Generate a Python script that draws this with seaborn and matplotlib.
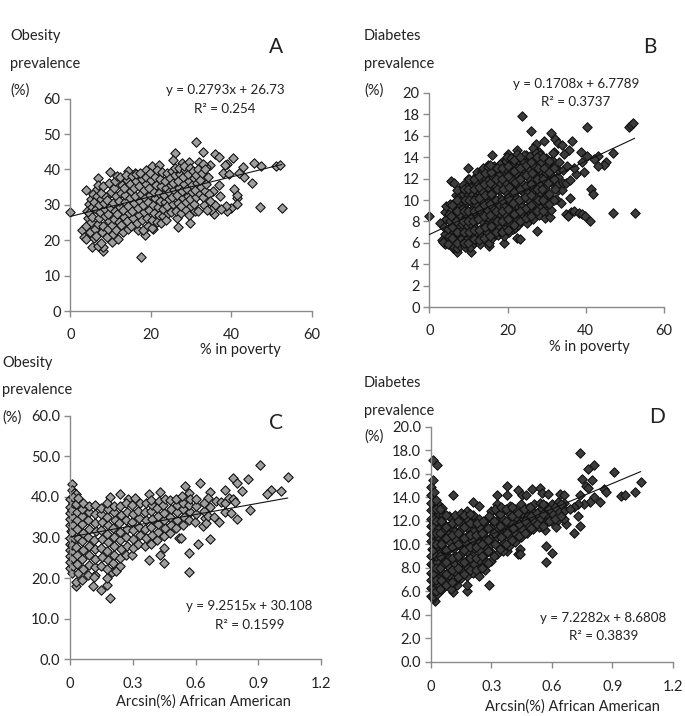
import matplotlib
matplotlib.use("Agg")
import matplotlib.pyplot as plt
import pandas as pd
import seaborn as sns

W, H = 685, 716

# values; outliers first, then estimates across the overlapping clouds
a_x = [0, 17.5, 31.2, 33, 25.9, 25.5, 36, 36.8, 40.4, 39, 38.5, 42.8, 45.5, 47.3, 51, 52,
       52.5, 47, 45.2, 43, 42, 41.5, 41.3, 40.6, 41.4, 40, 39, 38.7, 37.5, 36, 35.7, 35,
       37.2, 36.8, 35.5, 38, 39.3, 34.8, 33.8, 29.6, 26.7, 18.5, 20.5, 8, 8.1, 5.5,
       6.8, 7.5, 3, 3.5, 4, 4, 7, 9.8, 14.3, 16, 18.8, 20.3, 22, 27.8, 29.5, 32, 33,
       3.9, 4.3, 4.1, 4.6, 4.9, 5.2, 4.7, 5.4,
       5.1, 5.6, 5.8, 6.1, 5.5, 6.3, 6.0, 6.6,
       6.4, 6.9, 7.1, 6.7, 7.4, 7.2, 7.6, 6.8,
       7.9, 8.2, 8.5, 7.7, 8.7, 8.3, 8.9, 8.1,
       9.1, 9.4, 9.7, 9.3, 9.9, 9.2, 10.1, 9.6,
       10.3, 10.7, 10.4, 10.9, 11.2, 10.6, 11.4, 10.8,
       11.1, 11.6, 11.9, 11.3, 12.1, 11.7, 12.3, 12.0,
       12.5, 12.8, 12.4, 13.1, 12.7, 13.3, 13.0, 13.5,
       13.7, 13.4, 14.0, 13.8, 14.3, 14.1, 14.6, 14.4,
       14.8, 15.1, 14.7, 15.4, 15, 15.6, 15.3, 15.8,
       16.1, 15.9, 16.4, 16.2, 16.7, 16.5, 17, 16.8,
       17.2, 17.5, 17.1, 17.8, 17.4, 18, 17.7, 18.3,
       18.1, 18.6, 18.4, 18.9, 18.7, 19.2, 19, 19.5,
       19.3, 19.8, 19.6, 20.1, 19.9, 20.4, 20.2, 20.7,
       20.5, 21, 20.8, 21.3, 21.1, 21.6, 21.4, 21.9,
       21.7, 22.2, 22, 22.5, 22.3, 22.8, 22.6, 23.1,
       22.9, 23.4, 23.2, 23.7, 23.5, 24, 23.8, 24.3,
       24.1, 24.6, 24.4, 24.9, 24.7, 25.2, 25, 25.5,
       25.3, 25.8, 25.6, 26.1, 25.9, 26.4, 26.2, 26.7,
       26.5, 27, 26.8, 27.3, 27.1, 27.6, 27.4, 27.9,
       27.7, 28.2, 28, 28.5, 28.3, 28.8, 28.6, 29.1,
       28.9, 29.4, 29.2, 29.7, 29.5, 30, 29.8, 30.3,
       30.1, 30.6, 30.4, 30.9, 30.7, 31.2, 31, 31.5,
       31.3, 31.8, 31.6, 32.1, 32.4, 32.2, 32.7, 33.2,
       33, 33.5, 33.8, 34.1, 34.4, 34, 33.4, 34.7]
a_y = [28, 15.2, 47.8, 44.8, 44.6, 42.8, 44.3, 43.6, 43.2, 41.6, 41.4, 40.8, 41.8, 41, 41, 41.2,
       29.2, 29.5, 36.2, 37.8, 39, 31.8, 32.8, 34.6, 30.2, 29.2, 28.2, 29.6, 28.8, 30, 27.4, 28.6,
       32.4, 35.5, 34, 39, 38.6, 41.4, 40.6, 24.8, 23.8, 21.6, 23.2, 17, 18.2, 18.2,
       18.5, 19.2, 22.8, 21, 20.4, 34.2, 37.5, 39.2, 39.5, 39, 39.8, 41, 41.2, 41.8, 42.2, 42, 41.5,
       24.1, 26.3, 28.4, 30.2, 22.4, 25.2, 27.6, 29.3,
       31.6, 33.1, 20.6, 23.3, 26.7, 28.7, 30.8, 32.4,
       21.2, 24.6, 26.2, 34.6, 28.1, 29.9, 31.7, 35.6,
       22.3, 24.1, 26.8, 33.3, 28.7, 30.6, 32.2, 35.4,
       20.9, 23.2, 25.4, 27.3, 29.4, 31.3, 33.6, 36.2,
       19.6, 21.9, 24.2, 26.1, 28.2, 30.4, 32.6, 34.7,
       36.8, 38.2, 20.4, 22.8, 25.1, 27.4, 29.5, 31.2,
       33.4, 35.6, 37.9, 22.3, 24.4, 26.6, 28.6, 30.7,
       32.8, 34.9, 37, 38.4, 23.3, 25.5, 27.7, 29.8,
       31.9, 33.9, 36, 38.1, 24.1, 26.3, 28.4, 30.4,
       32.5, 34.7, 36.7, 38.6, 23, 25, 27.1, 29.2,
       31.1, 33.2, 35.3, 37.3, 39, 22.8, 25.6, 27.9,
       30, 32, 34.1, 36, 38, 24, 26.2, 28.5,
       30.7, 32.8, 34.8, 36.9, 39.1, 23.4, 25.8, 27.8,
       29.9, 31.8, 33.7, 35.7, 37.8, 39.8, 25.2, 27.1,
       29.3, 31.2, 33.3, 35.3, 37.2, 39.3, 24.8, 26.9,
       28.9, 30.9, 32.9, 34.9, 36.8, 38.9, 25.6, 27.6,
       29.7, 31.7, 33.6, 35.6, 37.6, 39.6, 28.1, 30.2,
       32.3, 34.2, 36.3, 38.3, 40.3, 26.4, 28.4, 30.6,
       32.7, 34.8, 36.7, 38.8, 40.4, 27.8, 29.8, 31.8,
       33.8, 35.8, 37.8, 39.8, 41.1, 28.6, 30.7, 32.6,
       34.6, 36.6, 38.6, 40.4, 27.2, 29.6, 31.6, 33.5,
       35.5, 37.5, 39.5, 28.4, 30.3, 32.3, 34.2, 36.3,
       38.3, 40.2, 28.2, 33, 35, 37, 39, 30,
       32.2, 34, 36, 38, 33, 28.5, 40, 31]

b_x = [0, 23.8, 25.9, 31.2, 40.2, 51, 51.5, 52.2, 32.2, 33, 34, 36.5, 35.8, 34.5, 38.7, 47,
       45.2, 44.7, 43, 42, 43, 40.3, 39, 39.5, 37.5, 37, 41.3, 41.8, 36, 33.6, 36.2, 35,
       35.5, 37, 38.3, 39, 39.8, 41.2, 47, 52.5, 27.5, 22.5, 23.2, 19, 15.3, 10.7, 7, 6,
       4, 3.2, 2.8, 5.5, 6.3, 9.9, 16, 13.9, 20.2, 22.5, 27.2, 29.3, 28, 15, 18.5, 24.8, 26.5, 32,
       3.6, 4, 3.7, 4.2, 3.9, 4.3, 4.9, 5.1, 4.7, 5.3, 5, 5.2,
       6.2, 6.5, 6.3, 6.7, 6.4, 6.8, 6.6, 6.9, 7.1, 7.3,
       7.2, 7.5, 7.3, 7.6, 7.4, 7.7, 7.9, 8.2, 8, 8.3, 8.1, 8.4,
       8.2, 8.5, 8.3, 8.6, 9.2, 9.5, 9.3, 9.6, 9.4, 9.7, 9.5, 9.8,
       9.6, 9.9, 10.4, 10.7, 10.5, 10.8, 10.6, 10.9, 10.7, 11, 10.8, 11.1,
       11.5, 11.8, 11.6, 11.9, 11.7, 12, 11.8, 12.1, 11.9, 12.2, 12, 12.3,
       13, 13.3, 13.1, 13.4, 13.2, 13.5, 13.3, 13.6, 13.4, 13.7, 13.5, 13.8,
       14.5, 14.8, 14.6, 14.9, 14.7, 15, 14.8, 15.1, 14.9, 15.2, 15, 15.3,
       16, 16.3, 16.1, 16.4, 16.2, 16.5, 16.3, 16.6, 16.4, 16.7, 16.5, 16.8,
       17.5, 17.8, 17.6, 17.9, 17.7, 18, 17.8, 18.1, 17.9, 18.2, 18, 18.3,
       19, 19.3, 19.1, 19.4, 19.2, 19.5, 19.3, 19.6, 19.4, 19.7, 19.5, 19.8,
       20.5, 20.8, 20.6, 20.9, 20.7, 21, 20.8, 21.1, 20.9, 21.2, 21, 21.3,
       22, 22.3, 22.1, 22.4, 22.2, 22.5, 22.3, 22.6, 22.4, 22.7, 22.5, 22.8,
       23.5, 23.8, 23.6, 23.9, 23.7, 24, 23.8, 24.1, 23.9, 24.2,
       25, 25.3, 25.1, 25.4, 25.2, 25.5, 25.3, 25.6, 25.4, 25.7,
       26.5, 26.8, 26.6, 26.9, 26.7, 27, 26.8, 27.1, 26.9, 27.2,
       28, 28.3, 28.1, 28.4, 28.2, 28.5, 28.3, 28.6, 28.4,
       29.5, 29.8, 29.6, 29.9, 29.7, 30, 29.8, 30.1, 29.9,
       30.8, 31.1, 31, 31.3, 31.2, 31.5, 31.4, 31.7,
       32.5, 32.8, 32.7, 33, 32.9, 33.2, 34, 34.3, 34.2, 35, 35.3, 36,
       5.7, 5.8, 5.6, 5.9,
       7, 7.1, 6.9, 7, 7.2, 7,
       8.8, 8.9, 8.7, 8.8, 9, 8.8,
       10, 10.1, 9.9, 10, 10.2, 10, 10.1,
       11.3, 11.4, 11.2, 11.3, 11.5, 11.3, 11.4,
       12.6, 12.7, 12.5, 12.6, 12.8, 12.6, 12.7,
       14.1, 14.2, 14, 14.1, 14.3, 14.1, 14.2,
       15.6, 15.7, 15.5, 15.6, 15.8, 15.6, 15.7, 15.6,
       17.1, 17.2, 17, 17.1, 17.3, 17.1, 17.2,
       18.6, 18.7, 18.5, 18.6, 18.8, 18.6, 18.7,
       20.1, 20.2, 20, 20.1, 20.3, 20.1, 20.2,
       21.6, 21.7, 21.5, 21.6, 21.8, 21.6, 21.7,
       23.1, 23.2, 23, 23.1, 23.3, 23.1, 23.2,
       24.6, 24.7, 24.5, 24.6, 24.8, 24.6,
       26, 26.1, 25.9, 26, 26.2, 26,
       27.6, 27.7, 27.5, 27.6, 27.8, 27.6,
       29, 29.1, 28.9, 29, 29.2, 29,
       30.5, 30.6, 30.4, 30.5, 30.7,
       32, 32.1, 31.9, 32]
b_y = [8.5, 17.8, 16.4, 16.2, 16.8, 16.8, 17, 17.2, 15.7, 15.3, 15.1, 15.5, 14.7, 14.3, 14.5, 14.4,
       13.5, 13.3, 14.1, 13.8, 13.2, 14.1, 13.5, 12.6, 12.4, 13, 11, 10.6, 10.2, 9.7, 8.9, 8.7,
       8.5, 9, 8.8, 8.7, 8.5, 8, 8.8, 8.8, 7.1, 6.5, 6.4, 6, 5.7, 5.2, 5.2, 5.5,
       5.9, 6.3, 7.9, 11.8, 11.6, 13, 14.2, 12.8, 14.3, 14.7, 15.2, 15.5, 14.5, 13.3, 13.5, 14.2, 14.8, 14.5,
       6.1, 6.8, 7.5, 8.2, 8.9, 9.4, 5.9, 6.6, 7.3, 8, 8.7, 9.6,
       5.6, 6.3, 7, 7.7, 8.4, 9.1, 9.8, 10.5, 5.5, 6.2,
       6.9, 7.6, 8.3, 9, 9.7, 10.4, 5.7, 6.4, 7.1, 7.8, 8.5, 9.2,
       9.9, 10.6, 11.1, 11.4, 5.6, 6.3, 7, 7.7, 8.4, 9.1, 9.8, 10.5,
       11.2, 12, 5.6, 6.3, 7, 7.7, 8.4, 9.1, 9.8, 10.5, 11.2, 11.9,
       6, 6.7, 7.4, 8.1, 8.8, 9.5, 10.2, 10.9, 11.6, 12.3, 6.2, 12.6,
       5.9, 6.6, 7.3, 8, 8.7, 9.4, 10.1, 10.8, 11.5, 12.2, 12.7, 13,
       6.3, 7, 7.7, 8.4, 9.1, 9.8, 10.5, 11.2, 11.9, 12.6, 13.1, 6,
       6.5, 7.2, 7.9, 8.6, 9.3, 10, 10.7, 11.4, 12.1, 12.8, 13.2, 6.8,
       6.7, 7.4, 8.1, 8.8, 9.5, 10.2, 10.9, 11.6, 12.3, 13, 13.4, 7,
       6.6, 7.3, 8, 8.7, 9.4, 10.1, 10.8, 11.5, 12.2, 12.9, 13.6, 14,
       7, 7.7, 8.4, 9.1, 9.8, 10.5, 11.2, 11.9, 12.6, 13.3, 13.9, 7.3,
       7.4, 8.1, 8.8, 9.5, 10.2, 10.9, 11.6, 12.3, 13, 13.7, 14.3, 7.7,
       8, 8.7, 9.4, 10.1, 10.8, 11.5, 12.2, 12.9, 13.6, 14.2,
       7.9, 8.6, 9.3, 10, 10.7, 11.4, 12.1, 12.8, 13.5, 14.1,
       8.2, 8.9, 9.6, 10.3, 11, 11.7, 12.4, 13.1, 13.8, 14.4,
       8.6, 9.3, 10, 10.7, 11.4, 12.1, 12.8, 13.5, 14.2,
       8.3, 9, 9.7, 10.4, 11.1, 11.8, 12.5, 13.2, 13.9,
       8.4, 9.1, 10.2, 11.6, 12.3, 13, 13.7, 14.4,
       10.1, 10.9, 11.4, 12.1, 12.8, 13.5, 10.9, 11.6, 12.8, 11.6, 13.2, 11.9,
       6.5, 7.5, 8.5, 9.5,
       6, 7, 8, 9, 10, 10.9,
       6, 7, 8, 9, 10, 11,
       6, 7, 8, 9, 10, 11, 12,
       6.4, 7.2, 8, 9, 10, 11, 12,
       6.3, 7.2, 8.2, 9.2, 10.2, 11.2, 12.2,
       6.5, 7.5, 8.5, 9.5, 10.5, 11.5, 12.5,
       6.6, 7.6, 8.6, 9.6, 10.6, 11.6, 12.6, 13.3,
       7, 8, 9, 10, 11, 12, 13,
       7, 8, 9, 10, 11, 12, 13,
       7.2, 8.2, 9.2, 10.2, 11.2, 12.2, 13.2,
       7.7, 8.7, 9.7, 10.7, 11.7, 12.7, 13.7,
       8, 9, 10, 11, 12, 13, 14,
       8.3, 9.3, 10.3, 11.3, 12.3, 13.3,
       8.5, 9.5, 10.5, 11.5, 12.5, 13.5,
       9, 10, 11, 12, 13, 14,
       9, 10, 11, 12, 13, 14,
       9.6, 10.6, 11.6, 12.6, 13.6,
       10, 11, 12, 13]

c_x = [.01, .01, .02, .03, .19, .24, .28, .31, .38, .43, .55, .62, .57, .67, .66, .74,
       .78, .8, .82, .85, .91, 1.04, .96, .94, 1.01, .86, .8, .74, .71, .7, .67, .61,
       .57, .57, .52, .53, .45, .45, .43, .38, .19, .18, .18, .15, .11, .03, .12, .2, .22, .24,
       0, .002, 0, .003, 0, .002, .004, 0, .003, 0, .002, 0,
       .012, .018, .014, .016, .011, .019, .013, .017, .015, .012, .018, .014,
       .032, .038, .034, .036, .031, .039, .033, .037, .035, .032, .038,
       .058, .063, .06, .062, .057, .064, .059, .061, .06, .063,
       .088, .093, .09, .092, .087, .094, .089, .091, .09,
       .118, .123, .12, .122, .117, .124, .119, .121, .12,
       .148, .153, .15, .152, .147, .154, .149, .151,
       .178, .183, .18, .182, .177, .184, .179, .181, .18,
       .208, .213, .21, .212, .207, .214, .209, .211,
       .238, .243, .24, .242, .237, .244, .239,
       .268, .273, .27, .272, .267, .274, .269,
       .298, .303, .3, .302, .297, .304, .299,
       .328, .333, .33, .332, .327, .334,
       .358, .363, .36, .362, .357, .364,
       .388, .393, .39, .392, .387, .394, .389,
       .418, .423, .42, .422, .417, .424,
       .448, .453, .45, .452, .447, .454,
       .478, .483, .48, .482, .477,
       .508, .513, .51, .512, .507,
       .538, .543, .54, .542, .537,
       .568, .573, .57, .572,
       .598, .603, .6, .602,
       .638, .643, .64, .642, .65, .66,
       .67, .69, .72, .74, .76, .78, .79, .77]
c_y = [43.3, 41.8, 41, 40.6, 40, 40.8, 39.5, 39.7, 40.6, 41.2, 42.7, 43.5, 41, 41.3, 39.7, 41.8,
       44.6, 43.5, 41.5, 44.3, 47.9, 44.9, 41.6, 40.7, 41.5, 36.7, 34.6, 36.2, 33.7, 39, 29.7, 28.4,
       26.2, 21.6, 30, 30, 23.8, 27.3, 25.8, 24.5, 15.2, 18.2, 20, 17, 18, 18, 20.8, 21.5, 21.8, 23,
       22.5, 24, 25.5, 27, 28.5, 30, 31.5, 33, 34.5, 36, 37.5, 39.5,
       21.3, 23.1, 24.9, 26.6, 28.2, 29.8, 31.4, 33.2, 35, 36.7, 38.4, 40,
       19, 21.2, 23.4, 25.6, 27.7, 29.9, 32.1, 34.2, 36.3, 38.2, 39.8,
       19.6, 22.2, 24.6, 26.9, 29.1, 31.2, 33.4, 35.3, 37.1, 38.6,
       20.7, 23.2, 25.7, 27.9, 30.1, 32.2, 34.3, 36.2, 37.8,
       20.3, 22.7, 24.8, 27.1, 29.3, 31.5, 33.6, 35.7, 38,
       23, 25.3, 27.5, 29.7, 31.8, 33.9, 35.8, 37.3,
       22.2, 24.4, 26.6, 28.8, 30.9, 33, 35, 37, 38.6,
       23.6, 25.8, 28, 30.2, 32.3, 34.3, 36.2, 37.8,
       25, 27.1, 29.3, 31.4, 33.5, 35.6, 37.8,
       25.6, 28, 30.1, 32.2, 34.3, 36.4, 38.4,
       25.6, 27.4, 29.7, 31.8, 33.9, 35.9, 38,
       28.4, 30.5, 32.6, 34.7, 36.6, 38.4,
       27.8, 30, 32.1, 34.2, 36.2, 38.5,
       28.5, 30.6, 32.7, 34.6, 36.5, 38, 39.2,
       29.5, 31.4, 33.4, 35.4, 37.2, 39,
       30.4, 32.3, 34.2, 36.1, 38, 39.6,
       31, 33, 35, 37, 39.2,
       32.4, 34.3, 36.2, 38, 39.6,
       33.2, 35, 36.9, 38.6, 40.3,
       34.2, 36.2, 38, 39.4,
       33.8, 35.8, 37.8, 39.4,
       32.8, 34.8, 36.6, 38.4, 33.6, 35.2,
       37.6, 35, 38.8, 38.4, 39.8, 39.4, 38.8, 36]

d_x = [.01, .03, .01, .11, .21, .24, .33, .38, .38, .43, .45, .47, .5, .54, .55, .58, .64, .66,
       .74, .78, .81, .8, .75, .77, .78, .74, .86, .87, .84, .81, .79, .91, .94, .96, 1.01, 1.04,
       .76, .73, .71, .73, .74, .71, .67, .62, .57, .6, .57, .44, .43, .44, .38, .29, .18, .18,
       .13, .11, .1, .02, .01,
       0, .002, 0, .003, 0, .002, .004, 0, .003, 0, .002, 0, .003, 0, .002,
       .012, .018, .014, .016, .011, .019, .013, .017, .015, .012, .018, .014, .016,
       .032, .038, .034, .036, .031, .039, .033, .037, .035, .032, .038, .034,
       .058, .063, .06, .062, .057, .064, .059, .061, .06, .063, .058,
       .088, .093, .09, .092, .087, .094, .089, .091, .09,
       .118, .123, .12, .122, .117, .124, .119, .121, .12,
       .148, .153, .15, .152, .147, .154, .149, .151, .15,
       .178, .183, .18, .182, .177, .184, .179, .181, .18,
       .208, .213, .21, .212, .207, .214, .209, .211,
       .238, .243, .24, .242, .237, .244, .239, .241,
       .268, .273, .27, .272, .267, .274, .269,
       .298, .303, .3, .302, .297, .304, .299,
       .328, .333, .33, .332, .327, .334, .329,
       .358, .363, .36, .362, .357, .364,
       .388, .393, .39, .392, .387, .394,
       .418, .423, .42, .422, .417,
       .448, .453, .45, .452, .447,
       .478, .483, .48, .482,
       .508, .513, .51, .512,
       .538, .543, .54, .542,
       .568, .573, .57, .572,
       .598, .603, .6,
       .628, .633, .63,
       .658, .663, .66,
       .69,
       .025, .026, .024, .025, .027, .025, .026, .024, .025,
       .048, .049, .047, .048, .05, .048, .049, .047,
       .075, .076, .074, .075, .077, .075, .076,
       .105, .106, .104, .105, .107, .105,
       .135, .136, .134, .135, .137, .135,
       .165, .166, .164, .165, .167, .165,
       .195, .196, .194, .195, .197, .195,
       .225, .226, .224, .225, .227,
       .255, .256, .254, .255, .257,
       .285, .286, .284, .285, .287,
       .315, .316, .314, .315, .317,
       .345, .346, .344, .345, .347,
       .375, .376, .374, .375,
       .405, .406, .404, .405,
       .435, .436, .434,
       .465, .466, .464,
       .495, .496, .494,
       .525, .526,
       .555, .556, .554,
       .585, .586,
       .615, .616,
       .645, .646]
d_y = [17.2, 16.8, 15.5, 14.2, 13.6, 13.3, 14.2, 15, 14.2, 14.6, 14.2, 14.2, 14.7, 14.8, 14.4, 14.3, 14.3, 14.2,
       17.8, 16.4, 16.8, 15.5, 15.6, 15, 14.8, 14.2, 14.7, 14.5, 13.6, 14, 13.6, 16.2, 14.1, 14.2, 14.5, 15.3,
       13.4, 13.4, 13.2, 12.4, 11.6, 11, 11.7, 11.5, 9.9, 9.3, 8.5, 9.6, 9.2, 9.2, 9.4, 6.5, 6, 6.5,
       6.5, 5.9, 6.2, 5.2, 5.4,
       5.6, 6.3, 7, 7.6, 8.3, 9, 9.6, 10.3, 10.9, 11.6, 12.2, 12.9, 13.5, 14.2, 14.9,
       5.6, 6.2, 6.9, 7.5, 8.2, 8.9, 9.5, 10.2, 10.8, 11.5, 12.2, 12.9, 14.5,
       5.8, 6.5, 7.1, 7.8, 8.5, 9.2, 9.9, 10.6, 11.3, 12, 12.7, 13.4,
       6.2, 6.9, 7.6, 8.3, 9, 9.7, 10.4, 11.1, 11.8, 12.5, 13.1,
       6.7, 7.4, 8.1, 8.8, 9.5, 10.2, 10.9, 11.6, 12.4,
       6.9, 7.6, 8.3, 9, 9.7, 10.4, 11.1, 11.8, 12.5,
       7.1, 7.8, 8.5, 9.2, 9.9, 10.6, 11.3, 12, 12.7,
       7.3, 8, 8.7, 9.4, 10.1, 10.8, 11.5, 12.2, 12.8,
       7.6, 8.3, 9, 9.7, 10.4, 11.1, 11.8, 12.5,
       7.3, 8, 8.7, 9.4, 10.1, 10.8, 11.5, 12.2,
       7.8, 8.5, 9.2, 9.9, 10.6, 11.3, 12,
       8.6, 9.3, 10, 10.7, 11.4, 12.1, 12.8,
       9.2, 9.9, 10.6, 11.3, 12, 12.7, 13.4,
       9.4, 10.1, 10.8, 11.5, 12.2, 12.9,
       9.9, 10.6, 11.3, 12, 12.7, 13.3,
       10.2, 10.9, 11.6, 12.3, 13,
       10.6, 11.3, 12, 12.7, 13.4,
       11, 11.7, 12.4, 13.1,
       11.3, 12, 12.7, 13.4,
       11.5, 12.2, 12.9, 13.5,
       11.2, 11.9, 12.6, 13.3,
       12, 12.7, 13.4,
       12.1, 12.8, 13.6,
       12.2, 12.9, 13.5,
       13,
       6, 7, 8, 9, 10, 11, 12, 13, 13.8,
       6.2, 7, 8, 9, 10, 11, 12, 13,
       6.5, 7.5, 8.5, 9.5, 10.5, 11.5, 12.5,
       6.8, 7.8, 8.8, 9.8, 10.8, 11.8,
       7.2, 8, 9, 10, 11, 12,
       7.5, 8.5, 9.5, 10.5, 11.5, 12.5,
       7.8, 8.8, 9.8, 10.8, 11.8, 12.6,
       7.8, 8.8, 9.8, 10.8, 11.8,
       8, 9, 10, 11, 12,
       8.4, 9.4, 10.4, 11.4, 12.4,
       9, 10, 11, 12, 13,
       9.6, 10.6, 11.6, 12.6, 13.2,
       10, 11, 12, 13,
       10.4, 11.4, 12.4, 13.2,
       10.7, 11.7, 12.7,
       11, 12, 13,
       11.4, 12.4, 13.2,
       11.7, 12.7,
       11.6, 12.6, 13.4,
       12, 13,
       12.2, 13.2,
       12.4, 13.4]

# trend line ends
a_line_x, a_line_y = [0, 52.5], [26.73, 41.4]
b_line_x, b_line_y = [0, 52.5], [6.78, 15.75]
c_line_x, c_line_y = [0, 1.04], [30.11, 39.73]
d_line_x, d_line_y = [0, 1.04], [8.68, 16.2]

pov_ticks = [0, 20, 40, 60]
arc_ticks = [0, 0.3, 0.6, 0.9, 1.2]
arc_labels = ["0", "0.3", "0.6", "0.9", "1.2"]
a_yticks = [0, 10, 20, 30, 40, 50, 60]
b_yticks = [0, 2, 4, 6, 8, 10, 12, 14, 16, 18, 20]
c_ylabels = ["0.0", "10.0", "20.0", "30.0", "40.0", "50.0", "60.0"]
d_ylabels = ["0.0", "2.0", "4.0", "6.0", "8.0", "10.0", "12.0", "14.0", "16.0", "18.0", "20.0"]

sns.set_theme(style="ticks")
plt.rcParams["font.family"] = ["Lato", "DejaVu Sans"]
TEXT = "#222222"
AXIS = "#8a8a8a"
FS = 10.5
EQ = 9.6

fig = plt.figure(figsize=(W / 100, H / 100), dpi=100)


def put(x, y, s, ha="left", size=FS):
    fig.text(x / W, 1 - y / H, s, ha=ha, va="center", fontsize=size, color=TEXT)


def panel(box, xs, ys, line_x, line_y, color, xticks, xlabels, xmax, yticks, ylabels, pad):
    left, top, right, bottom = box
    ax = fig.add_axes([left / W, 1 - bottom / H, (right - left) / W, (bottom - top) / H])
    df = pd.DataFrame({"x": xs, "y": ys})
    sns.scatterplot(data=df, x="x", y="y", ax=ax, marker="D", s=23, color=color,
                    edgecolor="#111111", linewidth=0.8, clip_on=False, zorder=2, legend=False)
    sns.lineplot(x=line_x, y=line_y, ax=ax, color="#111111", linewidth=0.8, zorder=3, errorbar=None)
    ax.set_xlim(0, xmax)
    ax.set_ylim(0, yticks[-1])
    ax.set_xticks(xticks)
    ax.set_xticklabels(xlabels)
    ax.set_yticks(yticks)
    ax.set_yticklabels(ylabels)
    ax.set_xlabel("")
    ax.set_ylabel("")
    ax.tick_params(axis="both", length=4, width=1, color=AXIS, labelcolor=TEXT, labelsize=FS)
    ax.tick_params(axis="x", pad=pad)
    ax.tick_params(axis="y", pad=3)
    for side in ["top", "right"]:
        ax.spines[side].set_visible(False)
    for side in ["left", "bottom"]:
        ax.spines[side].set_color(AXIS)
        ax.spines[side].set_linewidth(1)
    ax.patch.set_alpha(0)
    return ax


LIGHT = "#9e9e9e"
DARK = "#3c3c3c"
panel((70.3, 98.7, 312, 311), a_x, a_y, a_line_x, a_line_y, LIGHT, pov_ticks,
      [str(t) for t in pov_ticks], 60, a_yticks, [str(t) for t in a_yticks], 8)
panel((429.3, 92.7, 664, 307.3), b_x, b_y, b_line_x, b_line_y, DARK, pov_ticks,
      [str(t) for t in pov_ticks], 60, b_yticks, [str(t) for t in b_yticks], 8)
panel((69.7, 415.7, 321.3, 659.3), c_x, c_y, c_line_x, c_line_y, LIGHT, arc_ticks,
      arc_labels, 1.2, a_yticks, c_ylabels, 9)
panel((430.7, 427, 673, 661.7), d_x, d_y, d_line_x, d_line_y, DARK, arc_ticks,
      arc_labels, 1.2, b_yticks, d_ylabels, 9)

# panel A text
put(10, 36, "Obesity")
put(10, 64, "prevalence")
put(10, 91, "(%)")
put(276, 47, "A", ha="center", size=15)
put(225, 90, "y = 0.2793x + 26.73", ha="center", size=EQ)
put(225, 109, "R² = 0.254", ha="center", size=EQ)
put(240, 350, "% in poverty", ha="center")

# panel B text
put(364, 36, "Diabetes")
put(364, 64, "prevalence")
put(364, 91, "(%)")
put(650, 47, "B", ha="center", size=15)
put(576, 84, "y = 0.1708x + 6.7789", ha="center", size=EQ)
put(576, 102, "R² = 0.3737", ha="center", size=EQ)
put(589, 347, "% in poverty", ha="center")

# panel C text
put(2, 363, "Obesity")
put(2, 390, "prevalence")
put(2, 418, "(%)")
put(276, 423, "C", ha="center", size=15)
put(249, 606, "y = 9.2515x + 30.108", ha="center", size=EQ)
put(250, 625, "R² = 0.1599", ha="center", size=EQ)
put(203, 702, "Arcsin(%) African American", ha="center")

# panel D text
put(364, 383, "Diabetes")
put(364, 411, "prevalence")
put(364, 437, "(%)")
put(657, 417, "D", ha="center", size=15)
put(603, 618, "y = 7.2282x + 8.6808", ha="center", size=EQ)
put(604, 636, "R² = 0.3839", ha="center", size=EQ)
put(572, 707, "Arcsin(%) African American", ha="center")

fig.savefig("out.png", dpi=100)
plt.close(fig)
